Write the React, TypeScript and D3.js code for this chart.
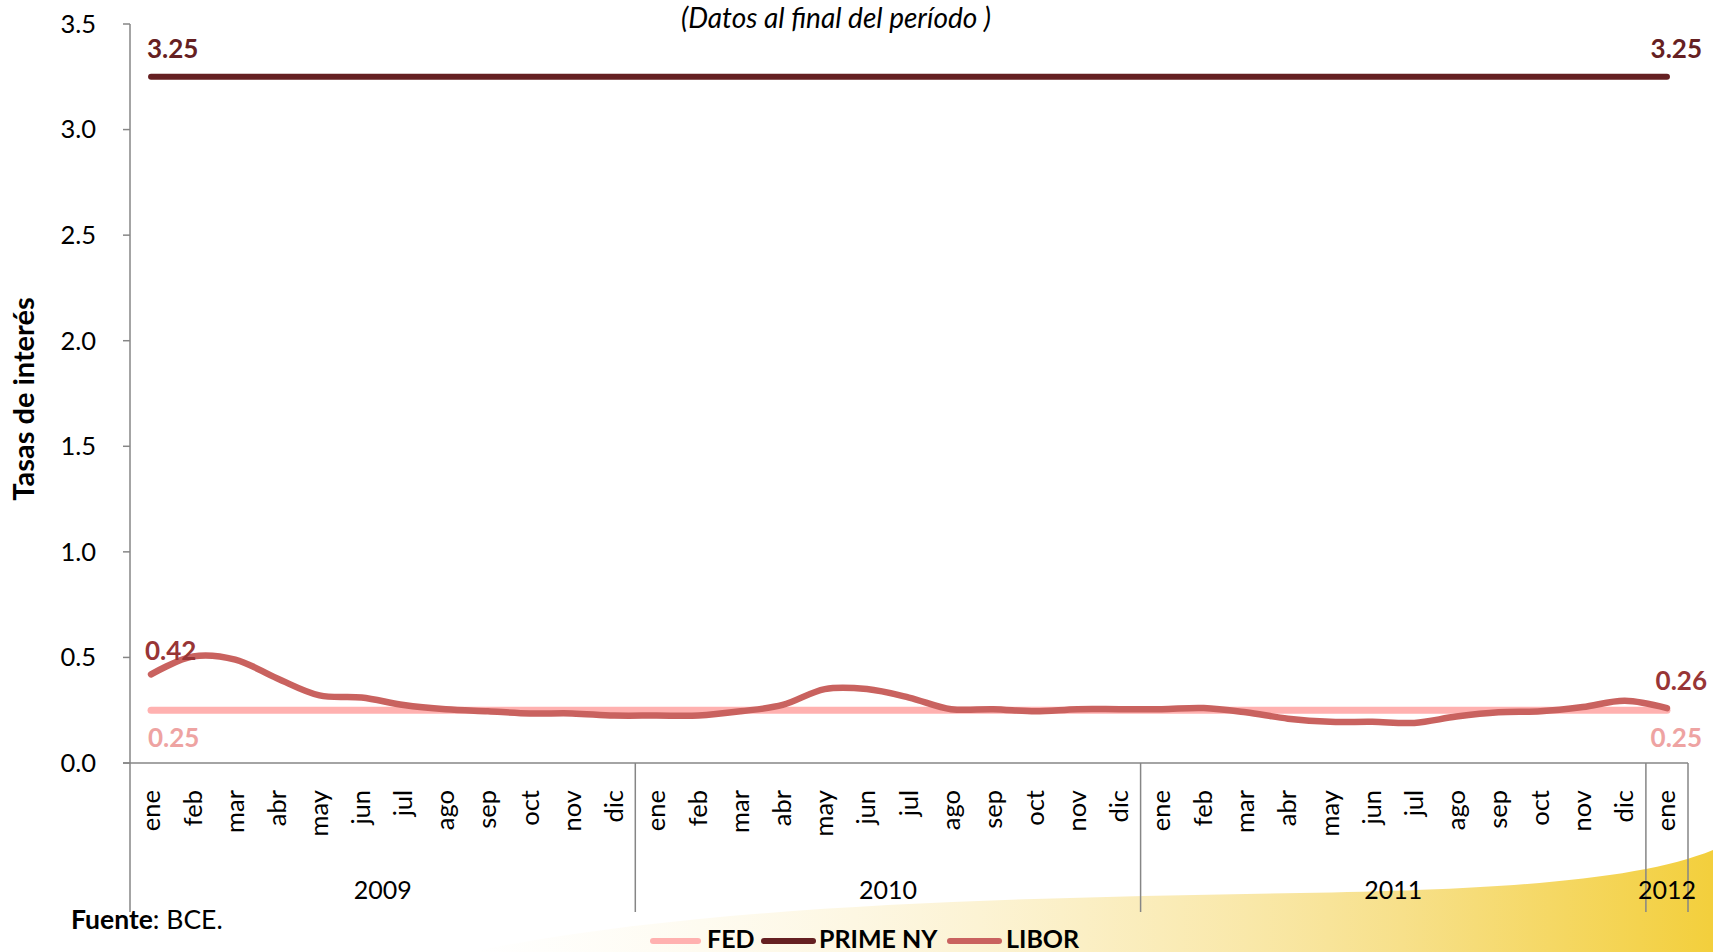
import React from "react";
import { scaleBand, scaleLinear, line, curveCatmullRom } from "d3";

const months = [
	"ene", "feb", "mar", "abr", "may", "jun", "jul", "ago", "sep", "oct", "nov", "dic",
	"ene", "feb", "mar", "abr", "may", "jun", "jul", "ago", "sep", "oct", "nov", "dic",
	"ene", "feb", "mar", "abr", "may", "jun", "jul", "ago", "sep", "oct", "nov", "dic",
	"ene"
];
const yearLabels = ["2009", "2010", "2011", "2012"];
const yearCounts = [12, 12, 12, 1];

const fed = [
	0.25, 0.25, 0.25, 0.25, 0.25, 0.25, 0.25, 0.25, 0.25, 0.25, 0.25, 0.25,
	0.25, 0.25, 0.25, 0.25, 0.25, 0.25, 0.25, 0.25, 0.25, 0.25, 0.25, 0.25,
	0.25, 0.25, 0.25, 0.25, 0.25, 0.25, 0.25, 0.25, 0.25, 0.25, 0.25, 0.25,
	0.25
];
const primeNY = [
	3.25, 3.25, 3.25, 3.25, 3.25, 3.25, 3.25, 3.25, 3.25, 3.25, 3.25, 3.25,
	3.25, 3.25, 3.25, 3.25, 3.25, 3.25, 3.25, 3.25, 3.25, 3.25, 3.25, 3.25,
	3.25, 3.25, 3.25, 3.25, 3.25, 3.25, 3.25, 3.25, 3.25, 3.25, 3.25, 3.25,
	3.25
];
const libor = [
	0.42, 0.505, 0.49, 0.40, 0.32, 0.31, 0.275, 0.255, 0.245, 0.235, 0.235, 0.225,
	0.225, 0.225, 0.245, 0.275, 0.35, 0.35, 0.31, 0.255, 0.255, 0.245, 0.255, 0.255,
	0.255, 0.26, 0.24, 0.21, 0.195, 0.195, 0.19, 0.22, 0.24, 0.245, 0.265, 0.295,
	0.26
];
const yTicks = [0, 0.5, 1, 1.5, 2, 2.5, 3, 3.5];

const W = 1713;
const H = 952;
const FONT = "Lato, 'Open Sans', sans-serif";
const AXIS = "#868686";

const COLORS = {
	fed: "#ffb1b0",
	prime: "#652022",
	libor: "#c9625f",
	liborLabel: "#983536",
	fedLabel: "#eea3a2"
};

export default function App() {
	const x = scaleBand<number>()
		.domain(months.map((_, i) => i))
		.range([130, 1688]);
	const y = scaleLinear().domain([0, 3.5]).range([763, 24]);
	const cx = (i: number) => (x(i) ?? 0) + x.bandwidth() / 2;
	const last = months.length - 1;

	const straight = line<number>().x((_, i) => cx(i)).y((d) => y(d));
	const smooth = line<number>().x((_, i) => cx(i)).y((d) => y(d)).curve(curveCatmullRom.alpha(0.5));

	// year separators
	const bounds: number[] = [0];
	yearCounts.forEach((c) => bounds.push(bounds[bounds.length - 1] + c));
	const edge = (k: number) => (k >= months.length ? x.range()[1] : (x(k) ?? 0));

	return (
		<svg width={W} height={H} style={{ position: "absolute", left: 0, top: 0, background: "#fff" }} fontFamily={FONT}>
			<defs>
				<linearGradient id="sun" x1="0" x2="1" y1="0" y2="0">
					<stop offset="0" stopColor="#fdf6dc" stopOpacity="0" />
					<stop offset="0.35" stopColor="#fbefc6" stopOpacity="0.6" />
					<stop offset="0.75" stopColor="#f7e08a" />
					<stop offset="1" stopColor="#f3cf3c" />
				</linearGradient>
			</defs>
			<path d="M470,952 C700,905 1000,898 1300,893 C1500,890 1640,880 1713,850 L1713,952 Z" fill="url(#sun)" />

			{/* subtitle */}
			<text x={836} y={28} textAnchor="middle" fontSize={28} fontStyle="italic" fill="#000">
				(Datos al final del período )
			</text>

			{/* y axis */}
			<line x1={130} x2={130} y1={y(3.5)} y2={912} stroke={AXIS} strokeWidth={1.5} />
			{yTicks.map((t) => (
				<g key={t}>
					<line x1={123} x2={130} y1={y(t)} y2={y(t)} stroke={AXIS} strokeWidth={1.5} />
					<text x={96} y={y(t)} dy="0.35em" textAnchor="end" fontSize={25.5} fill="#000">
						{t.toFixed(1)}
					</text>
				</g>
			))}
			<text transform="translate(34,399) rotate(-90)" textAnchor="middle" fontSize={29} fontWeight="bold" fill="#000">
				Tasas de interés
			</text>

			{/* x axis */}
			<line x1={123} x2={x.range()[1]} y1={y(0)} y2={y(0)} stroke={AXIS} strokeWidth={1.5} />
			{bounds.slice(1).map((b, i) => (
				<line key={i} x1={edge(b)} x2={edge(b)} y1={y(0)} y2={912} stroke={AXIS} strokeWidth={1.5} />
			))}
			{months.map((m, i) => (
				<text key={i} transform={`translate(${cx(i) + 8.5},790) rotate(-90)`} textAnchor="end" fontSize={25.5} fill="#000">
					{m}
				</text>
			))}
			{yearLabels.map((yl, i) => (
				<text key={yl} x={(edge(bounds[i]) + edge(bounds[i + 1])) / 2} y={899} textAnchor="middle" fontSize={25} fill="#000">
					{yl}
				</text>
			))}

			{/* series */}
			<path d={straight(fed) ?? ""} fill="none" stroke={COLORS.fed} strokeWidth={7} strokeLinecap="round" />
			<path d={straight(primeNY) ?? ""} fill="none" stroke={COLORS.prime} strokeWidth={6} strokeLinecap="round" />
			<path d={smooth(libor) ?? ""} fill="none" stroke={COLORS.libor} strokeWidth={6.5} strokeLinecap="round" />

			{/* data labels */}
			<text x={147} y={y(primeNY[0]) - 19} fontSize={26} fontWeight="bold" fill={COLORS.prime}>{primeNY[0].toFixed(2)}</text>
			<text x={1702} y={y(primeNY[last]) - 19} textAnchor="end" fontSize={26} fontWeight="bold" fill={COLORS.prime}>{primeNY[last].toFixed(2)}</text>
			<text x={145} y={y(libor[0]) - 14} fontSize={26} fontWeight="bold" fill={COLORS.liborLabel}>{libor[0].toFixed(2)}</text>
			<text x={1707} y={y(libor[last]) - 18} textAnchor="end" fontSize={26} fontWeight="bold" fill={COLORS.liborLabel}>{libor[last].toFixed(2)}</text>
			<text x={148} y={y(fed[0]) + 37} fontSize={26} fontWeight="bold" fill={COLORS.fedLabel}>{fed[0].toFixed(2)}</text>
			<text x={1702} y={y(fed[last]) + 37} textAnchor="end" fontSize={26} fontWeight="bold" fill={COLORS.fedLabel}>{fed[last].toFixed(2)}</text>

			{/* source */}
			<text x={71} y={929} fontSize={26.5} fill="#000">
				<tspan fontWeight="bold">Fuente</tspan>: BCE.
			</text>

			{/* legend */}
			{[
				{ label: "FED", color: COLORS.fed, x0: 653, x1: 698, tx: 707 },
				{ label: "PRIME NY", color: COLORS.prime, x0: 764, x1: 813, tx: 819 },
				{ label: "LIBOR", color: COLORS.libor, x0: 950, x1: 999, tx: 1006 }
			].map((item) => (
				<g key={item.label}>
					<line x1={item.x0} x2={item.x1} y1={941} y2={941} stroke={item.color} strokeWidth={6} strokeLinecap="round" />
					<text x={item.tx} y={948} fontSize={25} fontWeight="bold" fill="#000">{item.label}</text>
				</g>
			))}
		</svg>
	);
}
